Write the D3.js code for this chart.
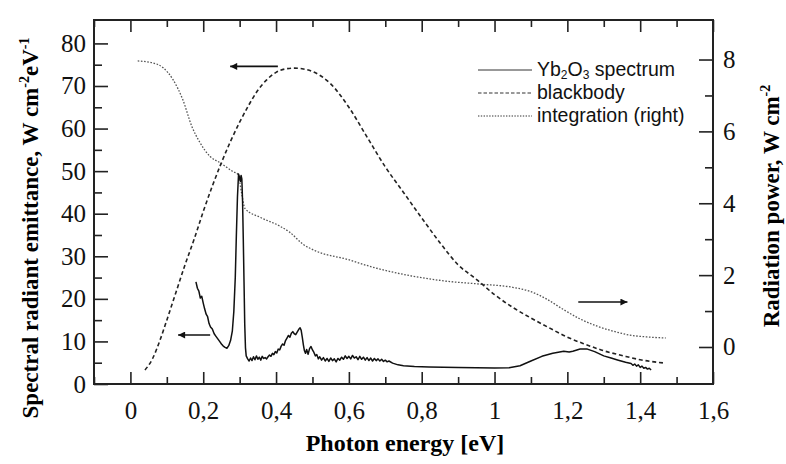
<!DOCTYPE html>
<html>
<head>
<meta charset="utf-8">
<script src="https://cdn.jsdelivr.net/npm/d3@7"></script>
<style>
  body { margin: 0; background: #fff; }
  svg { display: block; }
  .tick line { stroke: #222; stroke-width: 1.6; }
  .domain { display: none; }
</style>
</head>
<body>
<svg id="chart" width="786" height="464"></svg>
<script>
// Yb2O3 spectrum, left axis (W cm^-2 eV^-1)
const ybEnergy = [0.180,0.184,0.188,0.192,0.196,0.200,0.204,0.208,0.212,0.216,0.220,0.225,0.230,0.235,0.240,0.245,0.250,0.255,0.260,0.265,0.270,0.275,0.280,0.284,0.288,0.291,0.294,0.297,0.300,0.302,0.304,0.306,0.308,0.310,0.312,0.314,0.316,0.318,0.322,0.326,0.330,0.334,0.338,0.342,0.346,0.350,0.354,0.358,0.362,0.366,0.370,0.374,0.378,0.382,0.386,0.390,0.394,0.398,0.402,0.406,0.410,0.414,0.418,0.422,0.426,0.430,0.434,0.438,0.442,0.446,0.450,0.454,0.458,0.462,0.466,0.469,0.472,0.475,0.478,0.481,0.484,0.488,0.492,0.496,0.500,0.504,0.508,0.512,0.516,0.520,0.525,0.530,0.535,0.540,0.545,0.550,0.555,0.560,0.565,0.570,0.575,0.580,0.585,0.590,0.595,0.600,0.605,0.610,0.615,0.620,0.625,0.630,0.635,0.640,0.645,0.650,0.655,0.660,0.665,0.670,0.675,0.680,0.685,0.690,0.695,0.700,0.705,0.710,0.720,0.735,0.750,0.780,0.820,0.860,0.900,0.950,1.000,1.040,1.070,1.100,1.130,1.160,1.190,1.205,1.215,1.235,1.255,1.275,1.300,1.320,1.340,1.360,1.375,1.380,1.385,1.390,1.395,1.400,1.405,1.410,1.415,1.420,1.425,1.430]
const ybValue = [24.0,22.5,21.8,20.2,20.6,19.0,17.6,16.4,15.8,14.2,13.4,12.9,11.8,11.2,10.6,10.0,9.4,8.9,8.6,8.4,9.0,10.2,12.5,17,25,35,44,49.3,48.5,47.6,49.0,48.2,43,34,24,14,8.5,6.6,5.9,5.4,6.1,5.5,6.4,5.7,6.6,5.8,6.3,5.6,6.5,6.0,6.2,5.9,6.4,6.8,6.5,7.2,6.9,7.6,7.3,8.2,8.0,8.9,9.4,9.1,10.2,10.8,11.4,11.0,11.9,12.3,11.8,11.6,12.2,12.8,13.2,12.6,11.0,9.2,7.8,7.2,8.1,7.0,8.3,8.8,8.0,7.4,6.6,6.9,5.9,6.4,5.6,6.2,5.4,6.0,5.3,6.1,5.5,5.9,5.2,6.0,5.6,6.3,5.8,6.6,6.0,6.5,5.9,6.7,6.1,6.4,5.7,6.5,5.8,6.3,5.6,6.2,5.5,6.1,5.4,6.0,5.5,5.9,5.4,5.8,5.3,5.6,5.2,5.4,4.9,4.5,4.3,4.1,4.0,3.95,3.9,3.8,3.75,3.8,4.3,5.4,6.5,7.2,7.7,7.5,7.7,8.2,8.2,7.6,6.6,6.1,5.6,5.1,4.8,4.4,4.7,4.2,4.5,3.9,4.2,3.7,3.9,3.5,3.7,3.3]

// blackbody, left axis
const bbEnergy = [0.04,0.06,0.08,0.10,0.125,0.15,0.175,0.20,0.225,0.25,0.275,0.30,0.325,0.35,0.375,0.40,0.425,0.45,0.475,0.50,0.55,0.60,0.65,0.70,0.75,0.80,0.85,0.90,0.95,1.00,1.05,1.10,1.15,1.20,1.25,1.30,1.35,1.40,1.47]
const bbValue = [3.3,5.8,10,15,21.5,28,34,40.5,46.5,52,57,61.5,65.5,69,71.5,73.2,74,74.2,74,73.4,70.5,65,58,51,45,39,33.2,28,24.6,21,18,15.5,13.2,11,9.3,7.8,6.7,5.7,4.9]

// integration, right axis (W cm^-2)
const intEnergy = [0.02,0.06,0.09,0.117,0.144,0.169,0.191,0.219,0.246,0.282,0.296,0.305,0.315,0.356,0.411,0.438,0.474,0.512,0.595,0.666,0.776,0.869,0.96,1.05,1.097,1.144,1.188,1.235,1.282,1.326,1.372,1.418,1.47]
const intValue = [7.96,7.91,7.77,7.44,6.88,6.13,5.69,5.30,5.13,4.88,4.80,4.3,3.85,3.61,3.36,3.19,2.86,2.66,2.44,2.22,1.97,1.83,1.75,1.66,1.55,1.33,1.05,0.78,0.58,0.44,0.33,0.28,0.25]

const xMajor = [0,0.2,0.4,0.6,0.8,1.0,1.2,1.4,1.6]
const xMinor = [-0.1,0.1,0.3,0.5,0.7,0.9,1.1,1.3,1.5]
const yLeftMajor = [0,10,20,30,40,50,60,70,80]
const yLeftMinor = [5,15,25,35,45,55,65,75]
const yRightMajor = [0,2,4,6,8]
const yRightMinor = [1,3,5,7]

const legendLabels = ['spectrum', 'blackbody', 'integration (right)']

const svg = d3.select('#chart')
const plotLeft = 94, plotRight = 713, plotTop = 20, plotBottom = 384
const serif = '"Liberation Serif", "Times New Roman", serif'

const x = d3.scaleLinear().domain([-0.1, 1.6]).range([plotLeft, plotRight])
const yL = d3.scaleLinear().domain([0, 85.5]).range([plotBottom, plotTop])
const yR = d3.scaleLinear().domain([-1.03, 9.1]).range([plotBottom, plotTop])

const fmt = d => String(d).replace('.', ',')

function styleAxis(g) {
  g.attr('font-family', serif).attr('font-size', 25)
  g.selectAll('.tick text').attr('fill', '#111')
}

// axes with inward ticks
svg.append('g').attr('transform', `translate(0,${plotBottom})`)
  .call(d3.axisBottom(x).tickValues(xMajor).tickSize(-12).tickPadding(17).tickFormat(fmt))
  .call(styleAxis)
svg.append('g').attr('transform', `translate(0,${plotBottom})`)
  .call(d3.axisBottom(x).tickValues(xMinor).tickSize(-7).tickFormat(''))
svg.append('g').attr('transform', `translate(0,${plotTop})`)
  .call(d3.axisTop(x).tickValues(xMajor).tickSize(-12).tickFormat(''))
svg.append('g').attr('transform', `translate(0,${plotTop})`)
  .call(d3.axisTop(x).tickValues(xMinor).tickSize(-7).tickFormat(''))

svg.append('g').attr('transform', `translate(${plotLeft},0)`)
  .call(d3.axisLeft(yL).tickValues(yLeftMajor).tickSize(-14).tickPadding(8))
  .call(styleAxis)
svg.append('g').attr('transform', `translate(${plotLeft},0)`)
  .call(d3.axisLeft(yL).tickValues(yLeftMinor).tickSize(-8).tickFormat(''))

svg.append('g').attr('transform', `translate(${plotRight},0)`)
  .call(d3.axisRight(yR).tickValues(yRightMajor).tickSize(-14).tickPadding(10))
  .call(styleAxis)
svg.append('g').attr('transform', `translate(${plotRight},0)`)
  .call(d3.axisRight(yR).tickValues(yRightMinor).tickSize(-8).tickFormat(''))

// frame
svg.append('rect')
  .attr('x', plotLeft).attr('y', plotTop)
  .attr('width', plotRight - plotLeft).attr('height', plotBottom - plotTop)
  .attr('fill', 'none').attr('stroke', '#222').attr('stroke-width', 2)

// curves
const lineL = d3.line().x(d => x(d[0])).y(d => yL(d[1]))
const lineR = d3.line().x(d => x(d[0])).y(d => yR(d[1]))

svg.append('path')
  .datum(intEnergy.map((e, i) => [e, intValue[i]]))
  .attr('d', lineR.curve(d3.curveMonotoneX))
  .attr('fill', 'none').attr('stroke', '#555').attr('stroke-width', 1.3)
  .attr('stroke-dasharray', '1.6,1.6')

svg.append('path')
  .datum(bbEnergy.map((e, i) => [e, bbValue[i]]))
  .attr('d', d3.line().x(d => x(d[0])).y(d => yL(d[1])).curve(d3.curveMonotoneX))
  .attr('fill', 'none').attr('stroke', '#222').attr('stroke-width', 1.6)
  .attr('stroke-dasharray', '4,2.8')

svg.append('path')
  .datum(ybEnergy.map((e, i) => [e, ybValue[i]]))
  .attr('d', lineL)
  .attr('fill', 'none').attr('stroke', '#111').attr('stroke-width', 1.5)
  .attr('stroke-linejoin', 'round')

// arrows showing which axis each curve uses
svg.append('defs').append('marker')
  .attr('id', 'head').attr('viewBox', '0 0 10 10')
  .attr('refX', 10).attr('refY', 5)
  .attr('markerWidth', 12).attr('markerHeight', 7)
  .attr('markerUnits', 'userSpaceOnUse')
  .attr('orient', 'auto')
  .append('path').attr('d', 'M0,0L10,5L0,10Z').attr('fill', '#111')

const arrows = [
  { from: [0.405, 74.6], to: [0.274, 74.6], axis: 'L' },
  { from: [0.219, 11.5], to: [0.131, 11.5], axis: 'L' },
  { from: [1.23, 1.25], to: [1.365, 1.25], axis: 'R' }
]
arrows.forEach(a => {
  const ys = a.axis === 'L' ? yL : yR
  svg.append('line')
    .attr('x1', x(a.from[0])).attr('y1', ys(a.from[1]))
    .attr('x2', x(a.to[0])).attr('y2', ys(a.to[1]))
    .attr('stroke', '#111').attr('stroke-width', 1.6)
    .attr('marker-end', 'url(#head)')
})

// legend
const legend = svg.append('g').attr('transform', 'translate(478,70)')
const legendDash = [null, '3.5,2', '1.4,1.4']
legendLabels.forEach((lab, i) => {
  const g = legend.append('g').attr('transform', `translate(0,${i * 23})`)
  g.append('line').attr('x1', 0).attr('x2', 54).attr('y1', 0).attr('y2', 0)
    .attr('stroke', '#333').attr('stroke-width', 1)
    .attr('stroke-dasharray', legendDash[i])
  const t = g.append('text').attr('x', 59).attr('y', 6)
    .attr('font-family', '"Liberation Sans", Arial, sans-serif')
    .attr('font-size', 19.5).attr('fill', '#111')
  if (i === 0) {
    t.append('tspan').text('Yb')
    t.append('tspan').text('2').attr('font-size', 12).attr('dy', 3)
    t.append('tspan').text('O').attr('dy', -3)
    t.append('tspan').text('3').attr('font-size', 12).attr('dy', 3)
    t.append('tspan').text(' ' + lab).attr('dy', -3)
  } else {
    t.text(lab)
  }
})

// axis titles
svg.append('text')
  .attr('x', 405).attr('y', 451)
  .attr('text-anchor', 'middle')
  .attr('font-family', serif).attr('font-weight', 'bold').attr('font-size', 24)
  .text('Photon energy [eV]')

const lt = svg.append('text')
  .attr('transform', 'translate(38,228) rotate(-90)')
  .attr('text-anchor', 'middle')
  .attr('font-family', serif).attr('font-weight', 'bold').attr('font-size', 23)
lt.append('tspan').text('Spectral radiant emittance, W cm')
lt.append('tspan').text('-2').attr('font-size', 14).attr('dy', -9)
lt.append('tspan').text('eV').attr('dy', 9)
lt.append('tspan').text('-1').attr('font-size', 14).attr('dy', -9)

const rt = svg.append('text')
  .attr('transform', 'translate(779,206) rotate(-90)')
  .attr('text-anchor', 'middle')
  .attr('font-family', serif).attr('font-weight', 'bold').attr('font-size', 23)
rt.append('tspan').text('Radiation power, W cm')
rt.append('tspan').text('-2').attr('font-size', 14).attr('dy', -9)
</script>
</body>
</html>
